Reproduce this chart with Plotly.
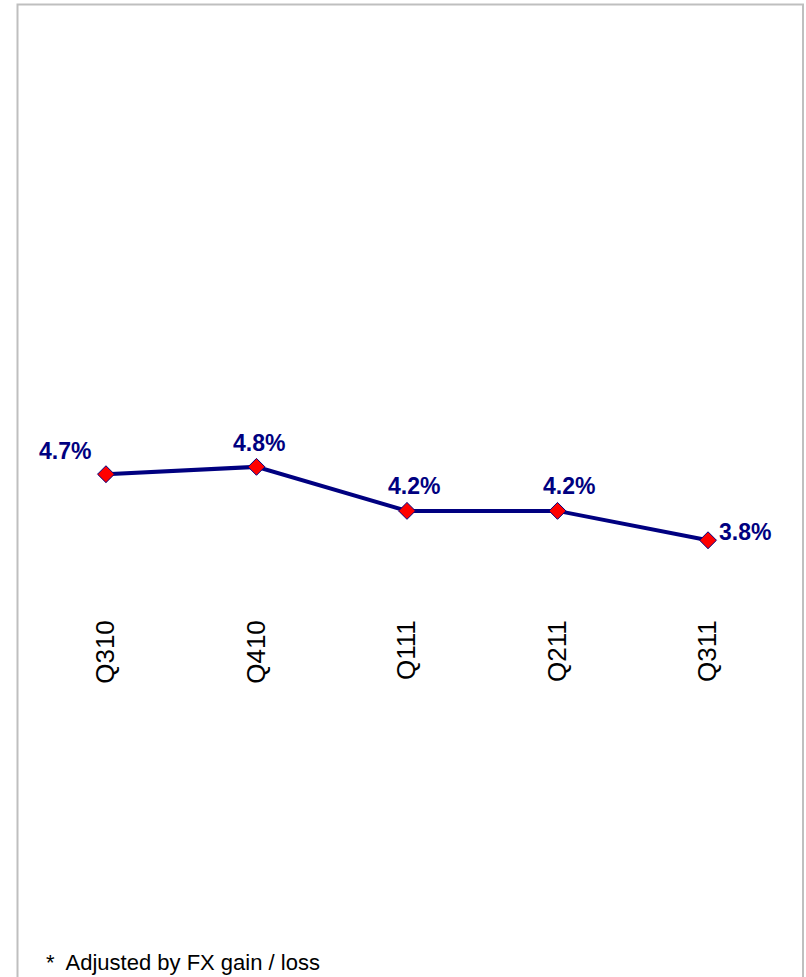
import plotly.graph_objects as go

# Quarterly series
quarters = ["Q310", "Q410", "Q111", "Q211", "Q311"]
values = [4.7, 4.8, 4.2, 4.2, 3.8]

# Label offsets (pixels) relative to each point
label_dx = [-41, 3, 7, 11, 37]
label_dy = [23, 24, 25, 25, 8]

W, H = 806, 977
NAVY = "#000080"
FONT = "Liberation Sans, Arial"

fig = go.Figure()
fig.add_trace(go.Scatter(
    x=quarters,
    y=values,
    mode="lines+markers",
    line=dict(color=NAVY, width=4),
    marker=dict(symbol="diamond", size=13, color="#ff0000",
                line=dict(color=NAVY, width=1)),
    hoverinfo="skip",
    showlegend=False,
))

# Bold value labels next to each point
for q, v, dx, dy in zip(quarters, values, label_dx, label_dy):
    fig.add_annotation(
        x=q, y=v, text=f"<b>{v:.1f}%</b>", showarrow=False,
        xanchor="center", yanchor="middle", xshift=dx, yshift=dy,
        font=dict(family=FONT, size=23, color=NAVY),
    )

# Footnote
fig.add_annotation(
    xref="paper", yref="paper", x=44 / W, y=(H - 962) / H,
    xanchor="left", yanchor="middle", showarrow=False,
    text="*  Adjusted by FX gain / loss",
    font=dict(family=FONT, size=22, color="#000000"),
)

# Outer frame
fig.add_shape(
    type="rect", xref="paper", yref="paper",
    x0=17.5 / W, x1=803 / W, y0=-0.02, y1=(H - 4.5) / H,
    line=dict(color="#bfbfbf", width=2), fillcolor="rgba(0,0,0,0)",
    layer="below",
)

fig.update_layout(
    width=W, height=H,
    margin=dict(l=0, r=0, t=0, b=0),
    paper_bgcolor="white", plot_bgcolor="white",
    xaxis=dict(
        type="category", range=[-0.704, 4.651],
        anchor="free", position=(H - 614) / H,
        showgrid=False, zeroline=False, showline=False, ticks="",
        tickangle=-90,
        tickfont=dict(family=FONT, size=26, color="#000000"),
    ),
    yaxis=dict(range=[-2.15, 11.16], visible=False),
)

fig.write_html("out.html")
